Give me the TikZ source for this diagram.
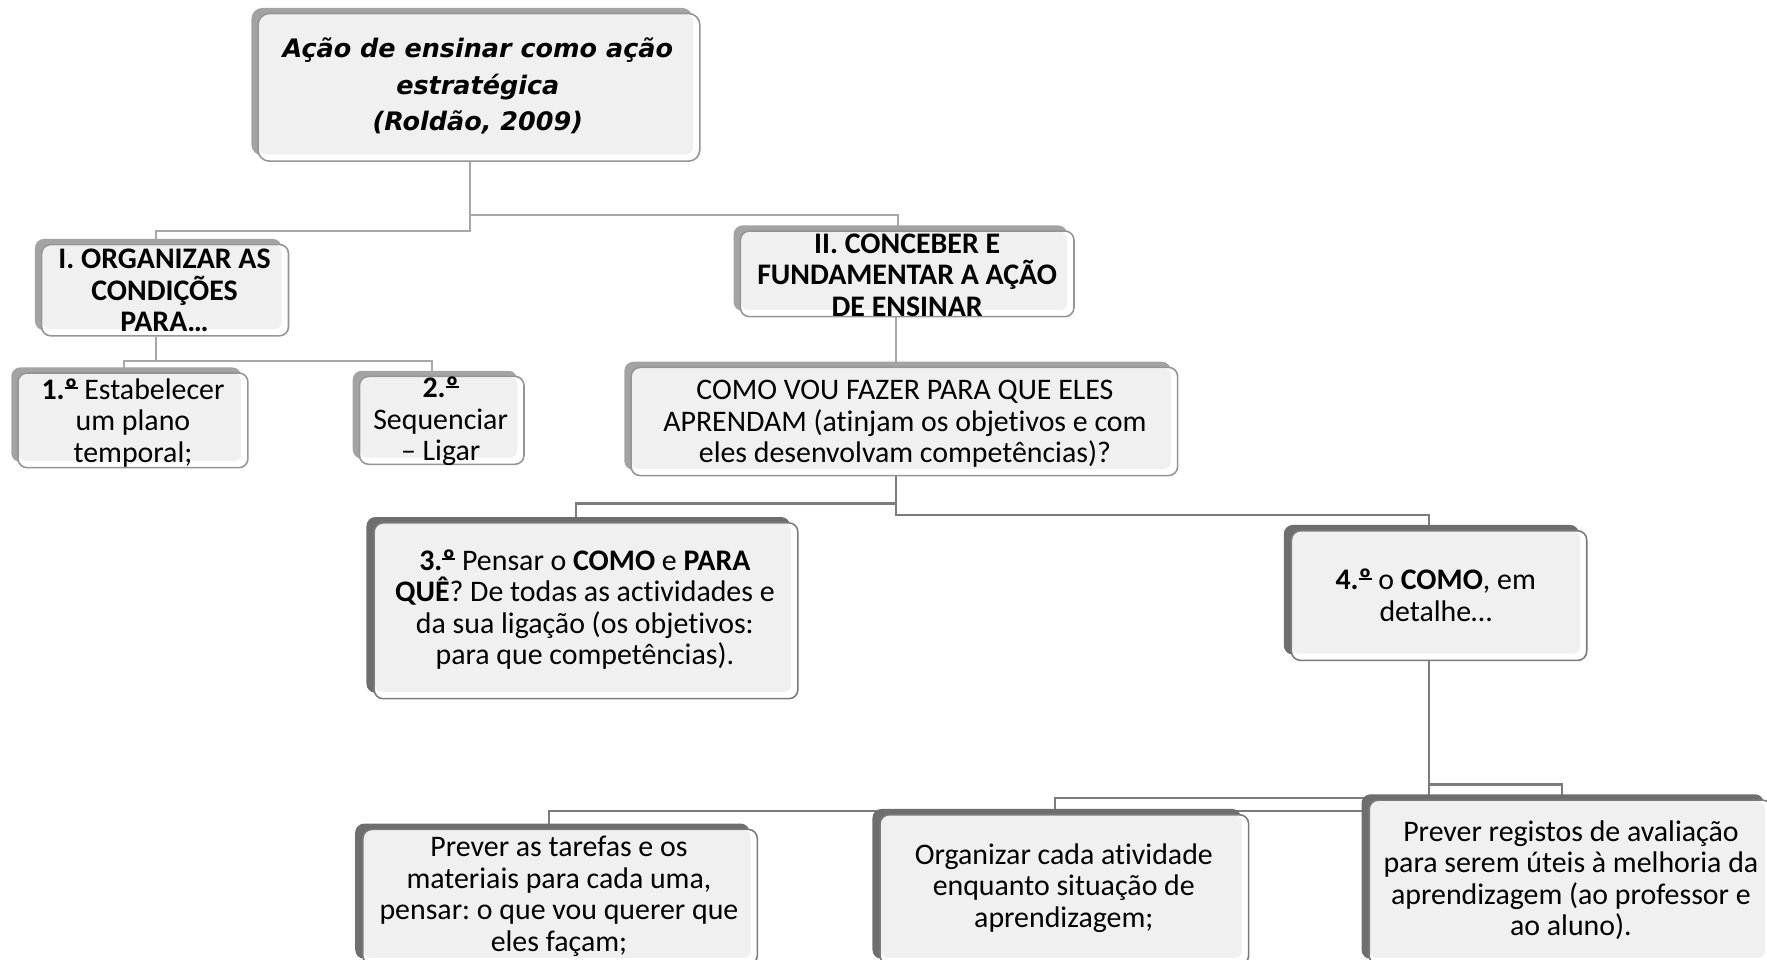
\documentclass[tikz,border=0pt]{standalone}
\usepackage{fontspec}
\setmainfont{Carlito}[Ligatures=NoCommon]
\newfontfamily\rootfont{DejaVu Sans}
\usetikzlibrary{shadows,backgrounds}
\definecolor{boxfill}{HTML}{F0F0F0}
\definecolor{bordA}{HTML}{959595}
\definecolor{bordB}{HTML}{7A7A7A}
\definecolor{shadA}{HTML}{A3A3A3}
\definecolor{shadB}{HTML}{6E6E6E}
\definecolor{lineA}{HTML}{A8A8A8}
\definecolor{lineB}{HTML}{7C7C7C}
\newcommand\ordo{{\setbox0\hbox{º}\rlap{\rule[0.33em]{\wd0}{0.065em}}\box0}}
\tikzset{
  basebox/.style={rectangle, rounded corners=4pt, line width=0.7pt, fill=white, inner sep=0pt,
    path picture={\fill[boxfill, rounded corners=3pt]
      ([xshift=0.4pt,yshift=-0.4pt]path picture bounding box.north west) rectangle
      ([xshift=-3pt,yshift=3pt]path picture bounding box.south east);}},
  boxA/.style={basebox, draw=bordA, general shadow={fill=shadA, shadow xshift=-3pt, shadow yshift=2.5pt}},
  boxB/.style={basebox, draw=bordB, general shadow={fill=shadB, shadow xshift=-3.4pt, shadow yshift=2.6pt}},
  txt/.style={align=center, inner sep=0pt, text=black, font=\fontsize{13.25}{14}\selectfont},
  roottxt/.style={align=center, inner sep=0pt, text=black, font=\rootfont\fontsize{11.3}{16.25}\selectfont\bfseries\itshape},
  conA/.style={draw=lineA, line width=0.9pt},
  conB/.style={draw=lineB, line width=1.1pt},
}
\begin{document}
\frenchspacing
\begin{tikzpicture}[x=0.5pt, y=-0.5pt]
\useasboundingbox (0,0) rectangle (1568,851);
% boxes
\node[boxA, rounded corners=5pt, minimum width=196pt, minimum height=65.5pt] (root) at (425,77.5) {};
\node[boxA, minimum width=109.5pt, minimum height=40.5pt] (I) at (146.5,257.5) {};
\node[boxA, minimum width=148pt, minimum height=38pt] (II) at (805,243) {};
\node[boxA, minimum width=102pt, minimum height=42pt] (one) at (118,373) {};
\node[boxA, minimum width=73pt, minimum height=39pt] (two) at (392,373) {};
\node[boxA, minimum width=242.5pt, minimum height=48pt] (como) at (802.5,374) {};
\node[boxB, minimum width=188pt, minimum height=78pt] (three) at (520,542) {};
\node[boxB, minimum width=131pt, minimum height=57.5pt] (four) at (1277,528.5) {};
\node[boxB, minimum width=175pt, minimum height=60pt] (tarefas) at (497,796) {};
\node[boxB, minimum width=163.5pt, minimum height=66.5pt] (organizar) at (944.5,789.5) {};
\node[boxB, minimum width=178.5pt, minimum height=73pt] (registos) at (1393.5,783) {};
% texts
\node[roottxt] (rootT) at (424,76.5) {Ação de ensinar como ação\\estratégica\\(Roldão, 2009)};
\node[txt, font=\fontsize{13.25}{14}\selectfont\bfseries] (IT) at (146,258) {I. ORGANIZAR AS\\CONDIÇÕES\\PARA…};
\node[txt, font=\fontsize{13.25}{14}\selectfont\bfseries] (IIT) at (805,244) {II. CONCEBER E\\FUNDAMENTAR A AÇÃO\\DE ENSINAR};
\node[txt] (oneT) at (118,375) {\textbf{1.\ordo} Estabelecer\\um plano\\temporal;};
\node[txt] (twoT) at (391,374) {\textbf{2.\ordo}\\Sequenciar\\– Ligar};
\node[txt] (comoT) at (803,376) {COMO VOU FAZER PARA QUE ELES\\APRENDAM (atinjam os objetivos e com\\eles desenvolvam competências)?};
\node[txt] (threeT) at (519,541) {\textbf{3.\ordo} Pensar o \textbf{COMO} e \textbf{PARA}\\\textbf{QUÊ}? De todas as actividades e\\da sua ligação (os objetivos:\\para que competências).};
\node[txt] (fourT) at (1274,528) {\textbf{4.\ordo} o \textbf{COMO}, em\\detalhe…};
\node[txt] (tarefasT) at (496,795.5) {Prever as tarefas e os\\materiais para cada uma,\\pensar: o que vou querer que\\eles façam;};
\node[txt] (organizarT) at (944,788) {Organizar cada atividade\\enquanto situação de\\aprendizagem;};
\node[txt] (registosT) at (1394,781) {Prever registos de avaliação\\para serem úteis à melhoria da\\aprendizagem (ao professor e\\ao aluno).};
% junction coordinates
\coordinate (rc) at (417,205); \coordinate (dI) at (138,205);
\coordinate (rc2) at (417,191); \coordinate (dII) at (797,191);
\coordinate (a) at (138,320); \coordinate (b) at (110,320); \coordinate (c) at (383,320);
\coordinate (k) at (795,300);
\coordinate (m) at (795,447); \coordinate (n) at (511,447);
\coordinate (p) at (795,457); \coordinate (q) at (1268,457);
\coordinate (r) at (1268,696); \coordinate (s) at (1386,696);
\coordinate (t) at (1268,708); \coordinate (u) at (936,708);
\coordinate (v) at (1268,719.5); \coordinate (w) at (487,719.5);
\begin{scope}[on background layer]
\draw[conA] (root.south -| rc) -- (rc) -- (dI) -- (dI |- I.north);
\draw[conA] (root.south -| rc2) -- (rc2) -- (dII) -- (dII |- II.north);
\draw[conA] (I.south -| a) -- (a) -- (b) -- (b |- one.north);
\draw[conA] (I.south -| a) -- (a) -- (c) -- (c |- two.north);
\draw[conA] (II.south -| k) -- (k |- como.north);
\draw[conB] (como.south -| m) -- (m) -- (n) -- (n |- three.north);
\draw[conB] (como.south -| p) -- (p) -- (q) -- (q |- four.north);
\draw[conB] (four.south -| r) -- (r) -- (s) -- (s |- registos.north);
\draw[conB] (four.south -| t) -- (t) -- (u) -- (u |- organizar.north);
\draw[conB] (four.south -| v) -- (v) -- (w) -- (w |- tarefas.north);
\end{scope}
\end{tikzpicture}
\end{document}
